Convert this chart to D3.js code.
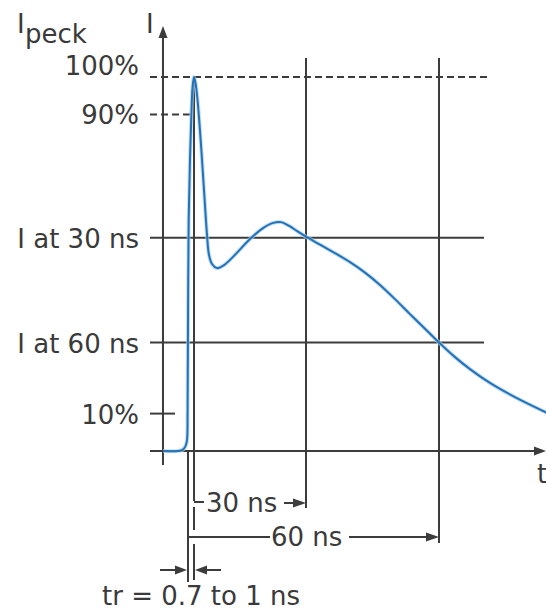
<!DOCTYPE html>
<html>
<head>
<meta charset="utf-8">
<script src="https://cdn.jsdelivr.net/npm/d3@7"></script>
<style>
  html, body { margin: 0; padding: 0; background: #fff; }
  svg text { font-family: "DejaVu Sans", sans-serif; font-size: 26px; fill: #3a3a3a; }
</style>
</head>
<body>
<div id="chart"></div>
<script>
// discharge current waveform (time in ns, current in % of peak)
const curveT = [-2.26, 1.13, 2.26, 2.82, 3.16, 3.29, 3.38, 3.54, 3.83, 4.13, 4.4, 4.74, 5.08, 5.53,
  6.32, 6.99, 7.67, 8.12, 8.8, 9.92, 11.5, 13.53, 17.37, 20.3, 22.6, 24.4, 26.2, 28.1, 30, 33.16,
  36.54, 39.93, 43.31, 46.69, 50.08, 53.46, 56.84, 60, 63.61, 66.99, 71.5, 77.14, 84.36];
const curveI = [0, 0, 0.4, 1.3, 2.9, 10.2, 32.4, 61.8, 77.8, 89.3, 97.1, 100, 98.4, 93.9,
  81.8, 69.8, 57.8, 52.4, 50, 48.9, 49.7, 51.9, 56.7, 59.6, 61.0, 61.2, 60.2, 58.7, 57.3, 55.2,
  52.9, 50.5, 47.7, 44.4, 40.6, 36.6, 32.7, 29.0, 25.1, 21.9, 18.2, 14.4, 10.2];

const levelLabels = ["100%", "90%", "I at 30 ns", "I at 60 ns", "10%"];
const levelValues = [100, 90, 57, 29, 10];
const markTimes = [30, 60];
const markLabels = ["30 ns", "60 ns"];
const riseStart = 3.38;   // where the rise leaves the baseline
const peakT = 4.74;       // time of the peak
const trLabel = "tr = 0.7 to 1 ns";

const width = 546, height = 616;
const ink = "#3c3c3c";

const svg = d3.select("#chart").append("svg")
    .attr("width", width)
    .attr("height", height);

const x = d3.scaleLinear().domain([0, 60]).range([173, 439]);
const y = d3.scaleLinear().domain([0, 100]).range([451, 77]);

const axisX = x(-2.26);  // y axis position
const tickStart = 150;

function line(x1, y1, x2, y2, dash) {
    svg.append("line")
        .attr("x1", x1).attr("y1", y1).attr("x2", x2).attr("y2", y2)
        .attr("stroke", ink).attr("stroke-width", 2)
        .attr("stroke-dasharray", dash || null);
}

// arrow head, tip at (px,py), dir: "up" | "right" | "left"
function arrowHead(px, py, dir, len, half) {
    len = len || 12; half = half || 4.5;
    let pts;
    if (dir === "up") pts = [[px, py], [px - half, py + len], [px + half, py + len]];
    if (dir === "right") pts = [[px, py], [px - len, py - half], [px - len, py + half]];
    if (dir === "left") pts = [[px, py], [px + len, py - half], [px + len, py + half]];
    svg.append("path").attr("d", "M" + pts.join("L") + "Z").attr("fill", ink);
}

// level lines
const hLineEnd = 484;
levelValues.forEach((v, i) => {
    const yy = y(v);
    if (v === 100) line(tickStart, yy, 487, yy, "7,4");
    else if (v === 90) line(tickStart, yy, x(peakT) - 4, yy, "7,4");
    else if (v === 10) line(tickStart, yy, 175, yy);
    else line(tickStart, yy, hLineEnd, yy);
    svg.append("text")
        .attr("x", 139)
        .attr("y", v === 100 ? yy - 2 : yy + 10)
        .attr("text-anchor", "end")
        .text(levelLabels[i]);
});

// vertical time markers
const markBottoms = [508, 543];
markTimes.forEach((t, i) => line(x(t), 58, x(t), markBottoms[i]));

// axes
line(axisX, 465, axisX, 32);
arrowHead(axisX, 26, "up");
line(tickStart, y(0), 540, y(0));
arrowHead(546, y(0), "right");

// rise bracket lines
const xr = x(riseStart), xp = x(peakT);
line(xr, y(0), xr, 582);
line(xp, y(100), xp, 501);
line(xp, 507, xp, 530);
line(xp, 544, xp, 580);

// 30 ns span
line(xp, 502, 204, 502);
svg.append("text").attr("x", 206).attr("y", 512).text(markLabels[0]);
line(284, 503, x(30) - 8, 503);
arrowHead(x(30), 503, "right", 13, 4.5);

// 60 ns span
line(xr, 537, 270, 537);
svg.append("text").attr("x", 271).attr("y", 546).text(markLabels[1]);
line(349, 537, x(60) - 8, 537);
arrowHead(x(60), 537, "right", 13, 4.5);

// tr arrows
line(160, 570, xr - 8, 570);
arrowHead(xr - 1, 570, "right", 12, 4.5);
line(221, 570, xp + 8, 570);
arrowHead(xp + 1, 570, "left", 12, 4.5);
svg.append("text").attr("x", 102).attr("y", 605).text(trLabel);

// axis names
svg.append("text").attr("x", 17).attr("y", 33).text("I");
svg.append("text").attr("x", 25).attr("y", 43).text("peck");
svg.append("text").attr("x", 146).attr("y", 33).text("I");
svg.append("text").attr("x", 537).attr("y", 483).text("t");

// waveform
const pts = curveT.map((t, i) => [t, curveI[i]]);
const gen = d3.line()
    .x(d => x(d[0]))
    .y(d => y(d[1]))
    .curve(d3.curveCatmullRom.alpha(0.5));

svg.append("path")
    .attr("d", gen(pts))
    .attr("fill", "none")
    .attr("stroke", "#a9d0ef")
    .attr("stroke-width", 4)
    .attr("stroke-opacity", 0.7);
svg.append("path")
    .attr("d", gen(pts))
    .attr("fill", "none")
    .attr("stroke", "#2472b6")
    .attr("stroke-width", 2);
</script>
</body>
</html>
